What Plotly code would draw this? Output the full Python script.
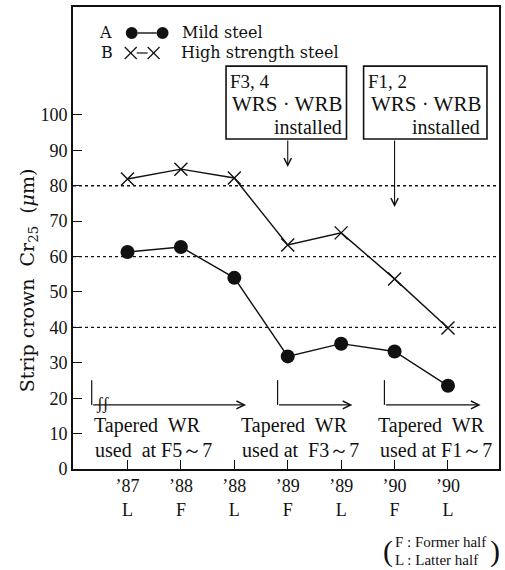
import plotly.graph_objects as go

# ---- data ----
periods = ["’87<br>L", "’88<br>F", "’88<br>L", "’89<br>F", "’89<br>L", "’90<br>F", "’90<br>L"]
mild_steel = [61.3, 62.7, 54.0, 31.8, 35.4, 33.2, 23.5]
high_strength_steel = [81.9, 84.7, 82.2, 63.3, 66.7, 53.7, 39.8]
y_ticks = [0, 10, 20, 30, 40, 50, 60, 70, 80, 90, 100]
grid_levels = [40, 60, 80]

xpos = list(range(len(periods)))
SERIF = "Liberation Serif, Times New Roman, serif"
WIDE = "DejaVu Serif, serif"
BLACK = "#111111"

# plot area in pixels (for placing paper-referenced decorations)
L, R, T, B = 73, 501, 7, 469
def px(x):
    return (x - L) / (R - L)
def py(y):
    return (B - y) / (B - T)
def dy(y):
    return (B - y) / (B - T) * 130.5

fig = go.Figure()
fig.add_trace(go.Scatter(
    x=xpos, y=mild_steel, mode="lines+markers", name="Mild steel",
    line=dict(color=BLACK, width=1.4),
    marker=dict(symbol="circle", size=14, color=BLACK),
    showlegend=False))
fig.add_trace(go.Scatter(
    x=xpos, y=high_strength_steel, mode="lines+markers", name="High strength steel",
    line=dict(color=BLACK, width=1.4),
    marker=dict(symbol="x-thin-open", size=13, color=BLACK, line=dict(color=BLACK, width=1.4)),
    showlegend=False))

shapes = []
for g in grid_levels:
    shapes.append(dict(type="line", xref="paper", x0=0, x1=1, yref="y", y0=g, y1=g,
                       line=dict(color=BLACK, width=1.4, dash="dot")))

# boxes
for x0, x1 in [(1.845, 4.10), (4.42, 6.73)]:
    shapes.append(dict(type="rect", xref="x", yref="y", x0=x0, x1=x1, y0=93.2, y1=113.8,
                       line=dict(color=BLACK, width=1.6), fillcolor="white", layer="above"))

# vertical legs of tapered-WR arrows
for xv in [-0.67, 2.81, 4.81]:
    shapes.append(dict(type="line", xref="x", yref="y", x0=xv, x1=xv, y0=25.1, y1=18.1,
                       line=dict(color=BLACK, width=1.2)))

# legend sample symbols
r = 6
for cx in (132, 163):
    shapes.append(dict(type="circle", xref="paper", yref="paper",
                       x0=px(cx - r), x1=px(cx + r), y0=py(33 + r), y1=py(33 - r),
                       fillcolor=BLACK, line=dict(color=BLACK, width=0)))
shapes.append(dict(type="line", xref="paper", yref="paper", x0=px(138), x1=px(157),
                   y0=py(33), y1=py(33), line=dict(color=BLACK, width=1.4)))
for cx in (131, 154):
    for d in (1, -1):
        shapes.append(dict(type="line", xref="paper", yref="paper",
                           x0=px(cx - 6), x1=px(cx + 6), y0=py(53 - 6 * d), y1=py(53 + 6 * d),
                           line=dict(color=BLACK, width=1.2)))
shapes.append(dict(type="line", xref="paper", yref="paper", x0=px(137), x1=px(148),
                   y0=py(53), y1=py(53), line=dict(color=BLACK, width=1.2)))

ann = []
def txt(x, y, s, size, xanchor="center", family=SERIF, **kw):
    ann.append(dict(x=x, y=y, xref="x", yref="y", text=s, showarrow=False,
                    xanchor=xanchor, yanchor="middle",
                    font=dict(family=family, size=size, color=BLACK), **kw))

def ptxt(x, y, s, size, xanchor="left", family=WIDE, **kw):
    ann.append(dict(x=px(x), y=py(y), xref="paper", yref="paper",
                    text=s, showarrow=False, xanchor=xanchor, yanchor="middle",
                    font=dict(family=family, size=size, color=BLACK), **kw))

# box texts
txt(1.89, 109.4, "F3, 4", 19, "left")
txt(2.98, 103.0, "WRS · WRB", 21)
txt(4.05, 96.5, "installed", 20, "right")
txt(4.47, 109.4, "F1, 2", 19, "left")
txt(5.58, 103.0, "WRS · WRB", 21)
txt(6.63, 96.5, "installed", 20, "right")

# arrows from boxes
for xa, tip in [(3, 85.3), (5, 74.0)]:
    ann.append(dict(x=xa, y=tip, ax=xa, ay=93.2, xref="x", yref="y", axref="x", ayref="y",
                    showarrow=True, arrowhead=5, arrowsize=1.3, arrowwidth=1.1,
                    arrowcolor=BLACK, text=""))

# horizontal arrows
for xs, xe in [(-0.67, 2.22), (2.81, 4.21), (4.81, 6.61)]:
    ann.append(dict(x=xe, y=18.1, ax=xs, ay=18.1, xref="x", yref="y", axref="x", ayref="y",
                    showarrow=True, arrowhead=5, arrowsize=1.3, arrowwidth=1.2,
                    arrowcolor=BLACK, text=""))
txt(-0.46, 18.4, "ʃʃ", 17)

# tapered WR labels
for x0, l2 in [(-0.67, "used  at F5～7"), (2.08, "used at  F3～7"), (4.66, "used at F1～7")]:
    txt(x0, dy(425), "Tapered  WR", 20, "left")
    txt(x0 + 0.03, dy(450), l2, 20, "left")

# legend-like annotations
ptxt(97, 33, "A", 16)
ptxt(181, 33, "Mild steel", 16)
ptxt(99, 53, "B", 16)
ptxt(179, 53, "High strength steel", 16)

# footnote
ptxt(395, 542, "F : Former half", 15, family=SERIF)
ptxt(395, 560, "L : Latter half", 15, family=SERIF)
ptxt(389, 551, "(", 30, "center", family=SERIF)
ptxt(504, 551, ")", 30, "right", family=SERIF)

# y title
ann.append(dict(x=px(29), y=py(280), xref="paper", yref="paper",
                text="Strip crown  Cr<sub>25</sub>  (<i>μ</i>m)", textangle=-90,
                showarrow=False, xanchor="center", yanchor="middle",
                font=dict(family=WIDE, size=19, color=BLACK)))

fig.update_layout(
    width=505, height=570,
    margin=dict(l=L, r=505 - R, t=T, b=570 - B),
    paper_bgcolor="white", plot_bgcolor="white",
    shapes=shapes, annotations=ann,
    font=dict(family=SERIF, color=BLACK),
    xaxis=dict(range=[-1.02, 6.955], tickvals=xpos, ticktext=periods,
               ticks="inside", ticklen=9, tickwidth=1.4, tickcolor=BLACK,
               showline=True, linecolor=BLACK, linewidth=1.6, mirror=True,
               showgrid=False, zeroline=False,
               tickfont=dict(family=SERIF, size=18, color=BLACK)),
    yaxis=dict(range=[0, 130.5], tickvals=y_ticks,
               ticks="inside", ticklen=9, tickwidth=1.4, tickcolor=BLACK,
               showline=True, linecolor=BLACK, linewidth=1.6, mirror=True,
               showgrid=False, zeroline=False,
               tickfont=dict(family=SERIF, size=18, color=BLACK)),
)

fig.write_html("out.html")
